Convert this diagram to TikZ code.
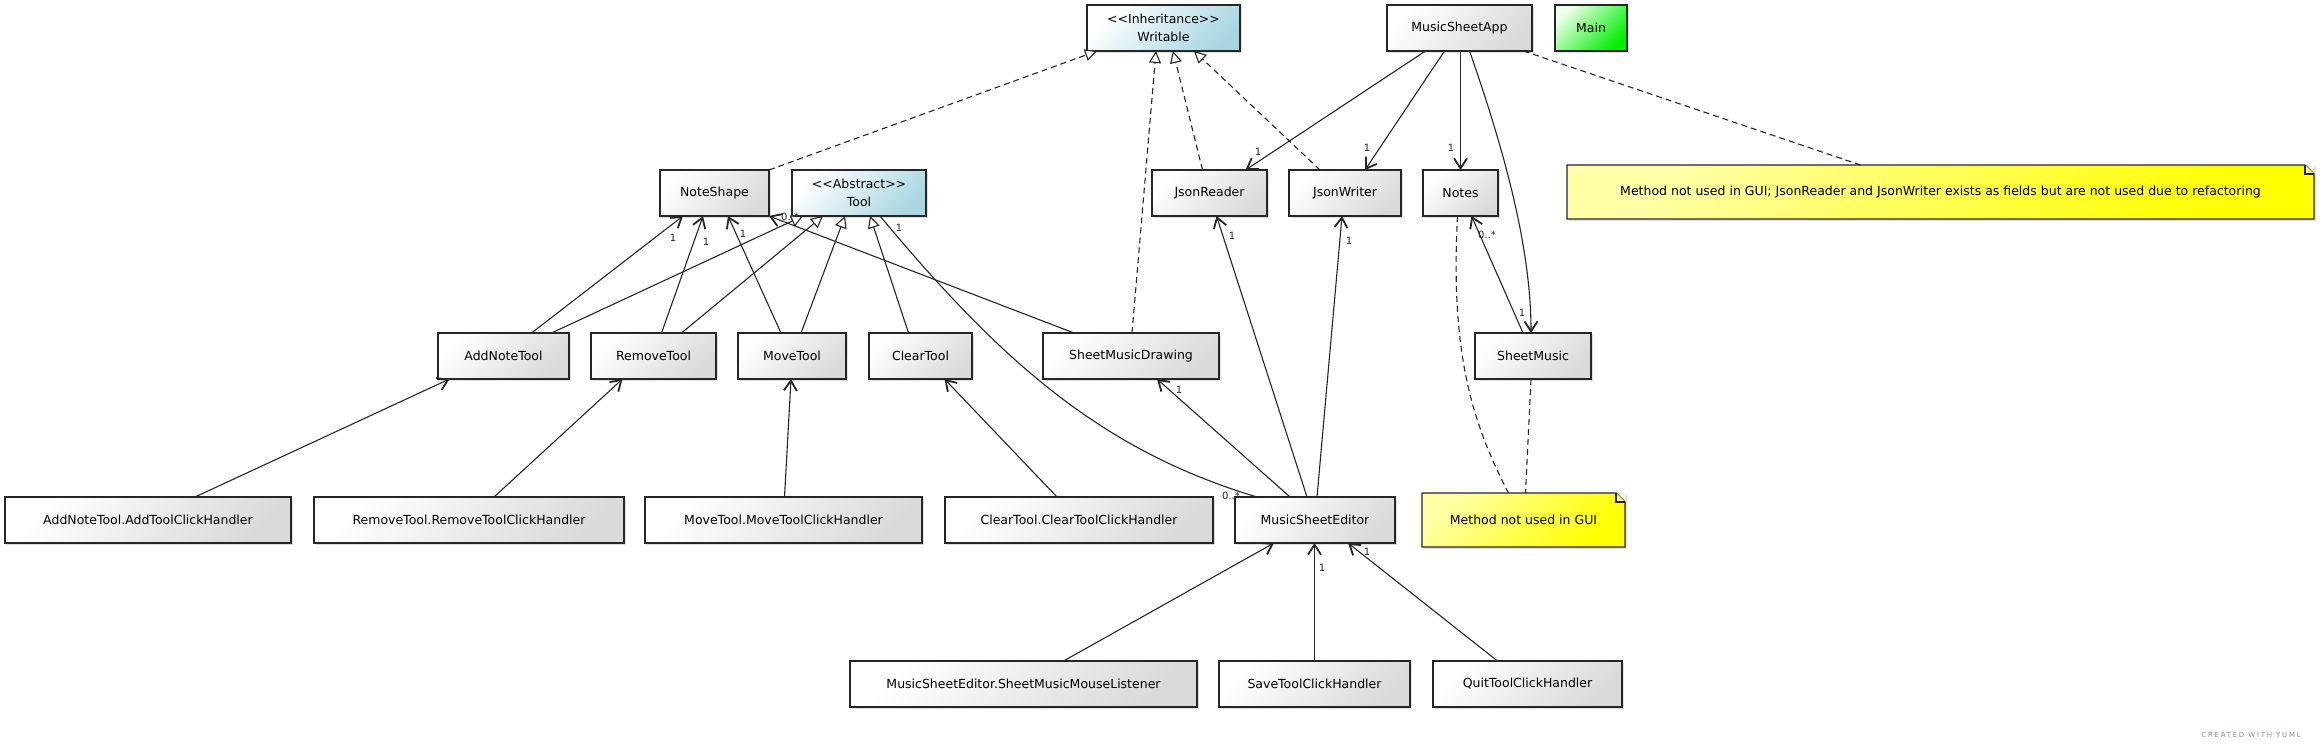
\documentclass[tikz,border=0pt]{standalone}
\usepackage{fontspec}
\setmainfont{DejaVu Sans}
\newfontfamily\yumlfont[LetterSpace=25]{DejaVu Sans}
\usetikzlibrary{arrows.meta,shadows}

\definecolor{boxgray}{RGB}{218,218,218}
\definecolor{boxblue}{RGB}{170,214,226}
\definecolor{boxgreen}{RGB}{0,240,0}
\definecolor{noteyellow}{RGB}{255,255,0}
\definecolor{edgegray}{RGB}{38,38,38}
\definecolor{creditgray}{RGB}{128,140,155}

\tikzset{
  umlbox/.style={draw=edgegray, line width=1.1pt, minimum height=46pt, inner sep=0pt, outer sep=0pt,
    font=\fontsize{12.5}{18}\selectfont, align=center,
    drop shadow={opacity=0.25, shadow xshift=2pt, shadow yshift=-2pt}},
  classbox/.style={umlbox, top color=white, bottom color=boxgray, shading angle=45},
  abstractbox/.style={umlbox, top color=white, bottom color=boxblue, shading angle=45},
  mainbox/.style={umlbox, top color=green!8, bottom color=boxgreen, shading angle=45},
  notebox/.style={umlbox, draw=none, minimum height=54pt, top color=yellow!35, bottom color=noteyellow, shading angle=45},
  notefold/.style={draw=edgegray, line width=1.1pt, line join=miter},
  assoc/.style={draw=edgegray, line width=1.1pt, -{Straight Barb[length=10pt,width=13pt,line width=1.8pt]}},
  plainline/.style={draw=edgegray, line width=1.1pt},
  genline/.style={draw=edgegray, line width=1.1pt, -{Triangle[open,length=12pt,width=12pt,fill=white]}},
  dashline/.style={dash pattern=on 6pt off 4pt},
  multlbl/.style={font=\fontsize{10}{11}\selectfont, inner sep=0pt, text=edgegray}
}

\begin{document}
\begin{tikzpicture}[x=1pt,y=-1pt]
\useasboundingbox (0,0) rectangle (2320,750);

% top row
\node[abstractbox, minimum width=153pt] (writable) at (1163.5,28) {<\kern0pt<Inheritance>\kern0pt>\\Writable};
\node[classbox, minimum width=145pt] (app) at (1459.5,28) {MusicSheetApp};
\node[mainbox, minimum width=72pt] (main) at (1591,28) {Main};

% second row
\node[classbox, minimum width=109pt] (noteshape) at (714.5,193) {NoteShape};
\node[abstractbox, minimum width=134pt] (tool) at (859,193) {<\kern0pt<Abstract>\kern0pt>\\Tool};
\node[classbox, minimum width=115pt] (reader) at (1209.5,193) {JsonReader};
\node[classbox, minimum width=112pt] (writer) at (1345,193) {JsonWriter};
\node[classbox, minimum width=75pt] (notes) at (1460.5,193) {Notes};
\node[notebox, minimum width=747pt] (bignote) at (1940.5,192) {Method not used in GUI; JsonReader and JsonWriter exists as fields but are not used due to refactoring};

% tools
\node[classbox, minimum width=131pt] (addtool) at (503.5,356) {AddNoteTool};
\node[classbox, minimum width=125pt] (removetool) at (653.5,356) {RemoveTool};
\node[classbox, minimum width=108pt] (movetool) at (792,356) {MoveTool};
\node[classbox, minimum width=103pt] (cleartool) at (920.5,356) {ClearTool};
\node[classbox, minimum width=176pt] (drawing) at (1131,356) {SheetMusicDrawing};
\node[classbox, minimum width=116pt] (sheetmusic) at (1533,356) {SheetMusic};

% handlers
\node[classbox, minimum width=286pt] (addhandler) at (148,520) {AddNoteTool.AddToolClickHandler};
\node[classbox, minimum width=310pt] (removehandler) at (469,520) {RemoveTool.RemoveToolClickHandler};
\node[classbox, minimum width=277pt] (movehandler) at (783.5,520) {MoveTool.MoveToolClickHandler};
\node[classbox, minimum width=268pt] (clearhandler) at (1079,520) {ClearTool.ClearToolClickHandler};
\node[classbox, minimum width=160pt] (editor) at (1315,520) {MusicSheetEditor};
\node[notebox, minimum width=203pt] (smallnote) at (1523.5,520) {Method not used in GUI};

\node[classbox, minimum width=347pt] (mouselistener) at (1023.5,684) {MusicSheetEditor.SheetMusicMouseListener};
\node[classbox, minimum width=191pt] (savehandler) at (1314.5,684) {SaveToolClickHandler};
\node[classbox, minimum width=189pt] (quithandler) at (1527.5,684) {QuitToolClickHandler};

% dog-eared notes
\foreach \n in {bignote,smallnote} {
  \fill[white] ([xshift=-9pt]\n.north east) -- (\n.north east) -- ([yshift=-9pt]\n.north east) -- cycle;
  \draw[notefold] (\n.north west) -- ([xshift=-9pt]\n.north east) -- ([yshift=-9pt]\n.north east)
    -- (\n.south east) -- (\n.south west) -- cycle;
  \draw[notefold, fill=yellow!45] ([xshift=-9pt]\n.north east) -- ([xshift=-9pt,yshift=-9pt]\n.north east)
    -- ([yshift=-9pt]\n.north east);
}

% realizations of Writable
\draw[genline, dashline] (noteshape.north east) -- ([xshift=10pt]writable.south west);
\draw[genline, dashline] ([xshift=1pt]drawing.north) -- ([xshift=69pt]writable.south west);
\draw[genline, dashline] ([xshift=-7pt]reader.north) -- ([xshift=86pt]writable.south west);
\draw[genline, dashline] ([xshift=-25pt]writer.north) -- ([xshift=107pt]writable.south west);

% MusicSheetApp
\draw[assoc] ([xshift=-34pt]app.south) -- ([xshift=36pt]reader.north);
\draw[assoc] ([xshift=-15pt]app.south) -- ([xshift=20pt]writer.north);
\draw[assoc] (app.south -| notes.north) -- (notes.north);
\draw[assoc] ([xshift=10pt]app.south) .. controls +(35,100) and +(0,-85) .. ([xshift=-2pt]sheetmusic.north);
\draw[plainline, dashline] ([xshift=64pt]app.south) -- ([xshift=-80pt]bignote.north);
\node[multlbl] (m1) at (1258,152) {1};
\node[multlbl] (m2) at (1367,148) {1};
\node[multlbl] (m3) at (1451,148) {1};
\node[multlbl] (m4) at (1522,313) {1};

% SheetMusic and notes
\draw[assoc] ([xshift=-10pt]sheetmusic.north) -- ([xshift=11pt]notes.south);
\node[multlbl] (m5) at (1487,235) {0..*};
\draw[plainline, dashline] ([xshift=-3pt]notes.south) .. controls +(-7,134) and +(-38,-73) .. ([xshift=-15pt]smallnote.north);
\draw[plainline, dashline] ([xshift=-2pt]sheetmusic.south) -- ([xshift=2pt]smallnote.north);

% tools to Tool and NoteShape
\draw[genline] ([xshift=48pt]addtool.north) -- ([xshift=11pt]tool.south west);
\draw[genline] ([xshift=28pt]removetool.north) -- ([xshift=31pt]tool.south west);
\draw[genline] ([xshift=9pt]movetool.north) -- ([xshift=53pt]tool.south west);
\draw[genline] ([xshift=-12pt]cleartool.north) -- ([xshift=78pt]tool.south west);
\draw[assoc] ([xshift=28pt]addtool.north) -- ([xshift=23pt]noteshape.south west);
\draw[assoc] ([xshift=8pt]removetool.north) -- ([xshift=43pt]noteshape.south west);
\draw[assoc] ([xshift=-11pt]movetool.north) -- ([xshift=68pt]noteshape.south west);
\draw[assoc] ([xshift=31pt]drawing.north west) -- (noteshape.south east);
\node[multlbl] (m6) at (673,238) {1};
\node[multlbl] (m7) at (706,242) {1};
\node[multlbl] (m8) at (743,234) {1};
\node[multlbl] (m9) at (790,217) {0..*};

% MusicSheetEditor
\draw[plainline] ([xshift=88pt]tool.south west) .. controls +(120,144) and +(-157,-47) .. ([xshift=22pt]editor.north west);
\node[multlbl] (m10) at (899,228) {1};
\node[multlbl] (m11) at (1231,496) {0..*};
\draw[assoc] ([xshift=55pt]editor.north west) -- ([xshift=26pt]drawing.south);
\draw[assoc] ([xshift=72pt]editor.north west) -- ([xshift=7pt]reader.south);
\draw[assoc] ([xshift=82pt]editor.north west) -- ([xshift=-3pt]writer.south);
\node[multlbl] (m12) at (1179,390) {1};
\node[multlbl] (m13) at (1232,236) {1};
\node[multlbl] (m14) at (1349,241) {1};

% handlers
\draw[assoc] ([xshift=47pt]addhandler.north) -- ([xshift=-54pt]addtool.south);
\draw[assoc] ([xshift=25pt]removehandler.north) -- ([xshift=-31pt]removetool.south);
\draw[assoc] ([xshift=1pt]movehandler.north) -- ([xshift=-1pt]movetool.south);
\draw[assoc] ([xshift=-22pt]clearhandler.north) -- ([xshift=24pt]cleartool.south);
\draw[assoc] ([xshift=40pt]mouselistener.north) -- ([xshift=-41pt]editor.south);
\draw[assoc] (savehandler.north) -- (savehandler.north |- editor.south);
\draw[assoc] ([xshift=-30pt]quithandler.north) -- ([xshift=33pt]editor.south);
\node[multlbl] (m15) at (1322,568) {1};
\node[multlbl] (m16) at (1367,552) {1};

\node[text=creditgray, font=\yumlfont\fontsize{7}{8}\selectfont, inner sep=0pt] (credit) at (2251,735) {CREATED WITH YUML};
\end{tikzpicture}
\end{document}
